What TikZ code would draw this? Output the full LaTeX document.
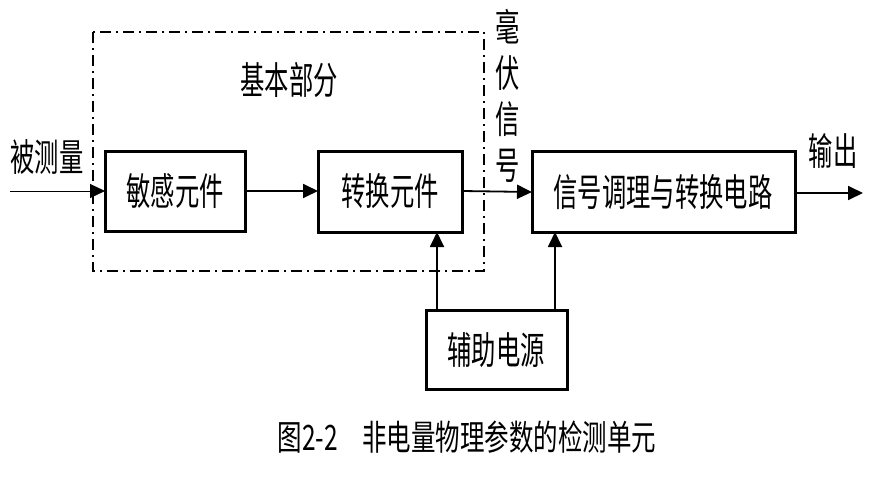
\documentclass[tikz,border=0pt]{standalone}
\usepackage{fontspec}
\usepackage{graphicx}
\newfontfamily\cjk{Noto Sans CJK SC}
\usetikzlibrary{arrows.meta}
\newcommand\narrow[1]{\scalebox{0.64}[1]{#1}}
\tikzset{
  blk/.style={draw, line width=3pt, inner sep=0pt},
  lbl/.style={font=\cjk\fontsize{38}{36}\selectfont, inner sep=0pt},
  arr/.style={line width=1.8pt, -{Triangle[length=15pt,width=14pt]}},
  frame/.style={line width=1.4pt, dash pattern=on 11pt off 5pt on 2pt off 5pt}
}
\begin{document}
\begin{tikzpicture}[x=1pt,y=-1pt]
\useasboundingbox (0,0) rectangle (869,492);
% dashed frame
\draw[frame] (93,32) rectangle (484,271);
% boxes
\draw[blk] (105,151) rectangle (245,231);
\node[lbl] (b1) at (175,191) {\narrow{敏感元件}};
\coordinate (b1w) at (105,191);
\coordinate (b1e) at (245,191);
\draw[blk] (318,151) rectangle (462,232);
\node[lbl] (b2) at (390,191) {\narrow{转换元件}};
\coordinate (b2w) at (318,191);
\coordinate (b2e) at (462,191);
\coordinate (b2s) at (437,232);
\draw[blk] (532,151) rectangle (795,232);
\node[lbl] (b3) at (663,192) {\narrow{信号调理与转换电路}};
\coordinate (b3w) at (532,192);
\coordinate (b3e) at (795,193);
\coordinate (b3s) at (555,232);
\draw[blk] (426,310) rectangle (567,389);
\node[lbl] (b4) at (496,350) {\narrow{辅助电源}};
\coordinate (b4a) at (437,310);
\coordinate (b4b) at (555,310);
% connectors
\coordinate (in) at (10,191);
\coordinate (out) at (863,193);
\draw[line width=1pt, -{Triangle[length=15pt,width=14pt]}] (in) -- (b1w);
\draw[arr] (b1e) -- (b2w);
\draw[arr] (b2e) -- (b3w);
\draw[arr] (b3e) -- (out);
\draw[arr] (b4a) -- (b2s);
\draw[arr] (b4b) -- (b3s);
% labels
\node[lbl] (t1) at (47,157) {\narrow{被测量}};
\node[lbl] (t2) at (289,80) {\narrow{基本部分}};
\node[lbl, align=center] (t3) at (508,96) {\narrow{毫}\\[10pt]\narrow{伏}\\[10pt]\narrow{信}\\[10pt]\narrow{号}};
\node[lbl] (t4) at (833,151) {\narrow{输出}};
\node[font=\cjk\fontsize{35}{36}\selectfont, inner sep=0pt] (cap) at (467,437) {\scalebox{0.7}[1]{图2-2\hspace{1em}非电量物理参数的检测单元}};
\end{tikzpicture}
\end{document}
